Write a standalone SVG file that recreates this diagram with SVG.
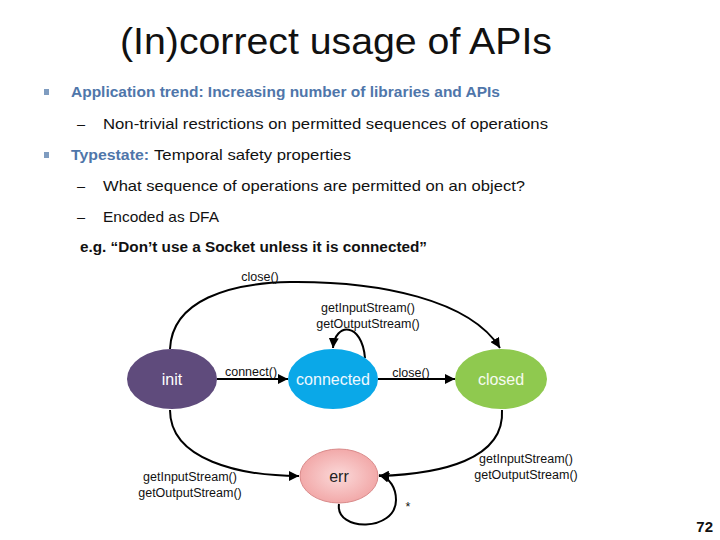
<svg xmlns="http://www.w3.org/2000/svg" width="720" height="540" viewBox="0 0 720 540">
<style>
text{font-family:"Liberation Sans",Arial,sans-serif}
.title{font-size:36px;fill:#111}
.body{font-size:14.5px;fill:#111}
.blue{font-weight:bold;fill:#4F76AA}
.lbl{font-size:12.5px;fill:#111}
.node{font-size:16px;text-anchor:middle}
.edge{fill:none;stroke:#000;stroke-width:2}
</style>
<defs>
<marker id="arr" markerUnits="userSpaceOnUse" markerWidth="10" markerHeight="10" refX="10" refY="5" orient="auto">
<path d="M0,0 L10,5 L0,10 z" fill="#000"/>
</marker>
<radialGradient id="errg" cx="0.5" cy="0.5" r="0.5">
<stop offset="0" stop-color="#FBD9D9"/>
<stop offset="1" stop-color="#F2A9A9"/>
</radialGradient>
</defs>
<rect width="720" height="540" fill="#fff"/>
<text class="title" x="120" y="54" textLength="432" lengthAdjust="spacingAndGlyphs">(In)correct usage of APIs</text>
<g id="bullets">
<rect x="44" y="89" width="5" height="6" fill="#7F9CC0"/>
<text class="body blue" x="71" y="97" textLength="429" lengthAdjust="spacingAndGlyphs">Application trend: Increasing number of libraries and APIs</text>
<text class="body" x="77" y="129">–</text>
<text class="body" x="103" y="129" textLength="445" lengthAdjust="spacingAndGlyphs">Non-trivial restrictions on permitted sequences of operations</text>
<rect x="44" y="152" width="5" height="6" fill="#7F9CC0"/>
<text class="body blue" x="71" y="160" textLength="78" lengthAdjust="spacingAndGlyphs">Typestate:</text>
<text class="body" x="154" y="160" textLength="197" lengthAdjust="spacingAndGlyphs">Temporal safety properties</text>
<text class="body" x="77" y="191">–</text>
<text class="body" x="103" y="191" textLength="422" lengthAdjust="spacingAndGlyphs">What sequence of operations are permitted on an object?</text>
<text class="body" x="77" y="222">–</text>
<text class="body" x="103" y="222" textLength="116" lengthAdjust="spacingAndGlyphs">Encoded as DFA</text>
<text class="body" x="80" y="252" font-weight="bold" textLength="347" lengthAdjust="spacingAndGlyphs">e.g. “Don’t use a Socket unless it is connected”</text>
</g>
<g id="connectors">
<path class="edge" d="M170,349 C172,300 230,283 290,282 C380,281 470,300 500,348" marker-end="url(#arr)"/>
<path class="edge" d="M365,358 C362,322 335,322 333,348" marker-end="url(#arr)"/>
<path class="edge" d="M217,379 L288,379" marker-end="url(#arr)"/>
<path class="edge" d="M378,379 L455,379" marker-end="url(#arr)"/>
<path class="edge" d="M170,410 C170,460 240,476 299,476" marker-end="url(#arr)"/>
<path class="edge" d="M502,410 C505,460 440,474 379,476" marker-end="url(#arr)"/>
<path class="edge" d="M339,504 C335,532 396,532 396,500 C396,488 390,478 379,475" marker-end="url(#arr)"/>
<text class="lbl" x="260" y="281" text-anchor="middle">close()</text>
<text class="lbl" x="368" y="312" text-anchor="middle">getInputStream()</text>
<text class="lbl" x="368" y="328" text-anchor="middle">getOutputStream()</text>
<text class="lbl" x="251" y="376" text-anchor="middle">connect()</text>
<text class="lbl" x="411" y="377" text-anchor="middle">close()</text>
<text class="lbl" x="190" y="481" text-anchor="middle">getInputStream()</text>
<text class="lbl" x="190" y="497" text-anchor="middle">getOutputStream()</text>
<text class="lbl" x="526" y="463" text-anchor="middle">getInputStream()</text>
<text class="lbl" x="526" y="479" text-anchor="middle">getOutputStream()</text>
<text class="lbl" x="408" y="511" text-anchor="middle">*</text>
</g>
<g id="init">
<ellipse cx="172" cy="379" rx="45" ry="30" fill="#5F4B7C"/>
<text class="node" x="172" y="385" fill="#fff">init</text>
</g>
<g id="connected">
<ellipse cx="333" cy="379" rx="45" ry="30" fill="#0AA8E8"/>
<text class="node" x="333" y="385" fill="#F0F8FF">connected</text>
</g>
<g id="closed">
<ellipse cx="501" cy="379" rx="46" ry="30" fill="#8FC94F"/>
<text class="node" x="501" y="385" fill="#F6FBEF">closed</text>
</g>
<g id="err">
<ellipse cx="339" cy="476" rx="39" ry="27" fill="url(#errg)" stroke="#D98A8A" stroke-width="1"/>
<text class="node" x="339" y="482" fill="#222">err</text>
</g>
<text x="713" y="532" font-size="15" font-weight="bold" text-anchor="end" fill="#111">72</text>
</svg>
